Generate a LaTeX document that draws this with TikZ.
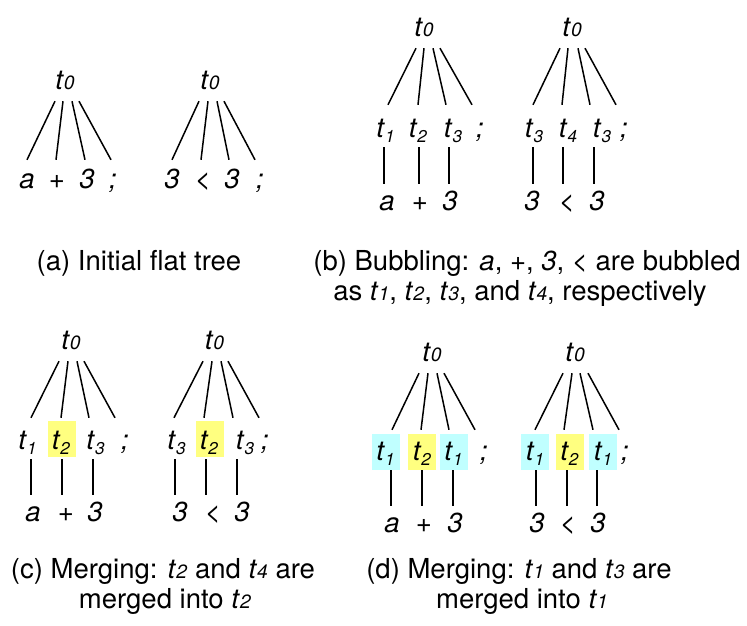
\documentclass[tikz,border=0pt]{standalone}
\usepackage{fontspec}
\setmainfont{TeX Gyre Heros}
\usetikzlibrary{calc}
\definecolor{hlY}{RGB}{255,255,128}
\definecolor{hlC}{RGB}{192,255,255}
\newcommand\tz{\textit{t}\scalebox{0.7}{\textit{0}}}
\newcommand\tsub[1]{\textit{t}\raisebox{-0.2em}{\scalebox{0.62}{\textit{#1}}}}
\newcommand\tcap[1]{\textit{t}\scalebox{0.7}{\textit{#1}}}
\newcommand\rootedges[3]{%
  \foreach \dx/\ch/\cdx in {#2}
    \draw[edge] ([xshift=\dx pt,yshift=-12pt]#1.south) -- ([xshift=\cdx pt,yshift=#3]\ch.north);}
\newcommand\vedges[1]{%
  \foreach \m/\vdx/\l in {#1}{
    \coordinate (vT) at ([xshift=\vdx pt,yshift=-10pt]\m.south);
    \coordinate (vB) at ([yshift=9pt]\l.north);
    \draw[edge] (vT) -- (vT |- vB);}}
\tikzset{
  tl/.style={inner sep=0pt, anchor=base, text height=17pt, text depth=0pt,
             font=\fontsize{27.5}{32}\selectfont},
  hlbox/.style={inner sep=0pt, minimum width=28pt, minimum height=36pt, anchor=south},
  capt/.style={anchor=base, inner sep=0pt, font=\fontsize{27.5}{32}\selectfont},
  edge/.style={line width=1.5pt},
}
\begin{document}
\begin{tikzpicture}[x=1pt,y=-1pt]
\useasboundingbox (0,0) rectangle (747,625);

% ---------- (a) left
\node[tl] (A1r) at (65,89) {\tz};
\node[tl] (A1a) at (27,188) {\textit{a}};
\node[tl] (A1b) at (57,188) {+};
\node[tl] (A1c) at (87,188) {\textit{3}};
\node[tl] (A1d) at (113,188) {\textit{;}};
\rootedges{A1r}{-10/A1a/0,-2/A1b/-1,7/A1c/-2,14/A1d/-2}{11pt}
% ---------- (a) right
\node[tl] (A2r) at (210,89) {\tz};
\node[tl] (A2a) at (172,188) {\textit{3}};
\node[tl] (A2b) at (203,188) {<};
\node[tl] (A2c) at (232,188) {\textit{3}};
\node[tl] (A2d) at (260,188) {\textit{;}};
\rootedges{A2r}{-11/A2a/0,-2/A2b/-2,7/A2c/-3,14/A2d/-5}{11pt}

% ---------- (b) left
\node[tl] (B1r) at (424,36) {\tz};
\node[tl] (B1m1) at (385.5,137) {\tsub{1}};
\node[tl] (B1m2) at (418,137) {\tsub{2}};
\node[tl] (B1m3) at (453,137) {\tsub{3}};
\node[tl] (B1m4) at (480,137) {\textit{;}};
\node[tl] (B1l1) at (387,210) {\textit{a}};
\node[tl] (B1l2) at (420,210) {+};
\node[tl] (B1l3) at (450,210) {\textit{3}};
\rootedges{B1r}{-8/B1m1/2.5,0/B1m2/0,9/B1m3/-7,16/B1m4/-8}{15pt}
\vedges{B1m1/-1.5/B1l1,B1m2/1/B1l2,B1m3/-4/B1l3}
% ---------- (b) right
\node[tl] (B2r) at (572,36) {\tz};
\node[tl] (B2m1) at (534,137) {\tsub{3}};
\node[tl] (B2m2) at (568,137) {\tsub{4}};
\node[tl] (B2m3) at (602,137) {\tsub{3}};
\node[tl] (B2m4) at (624,137) {\textit{;}};
\node[tl] (B2l1) at (532,210) {\textit{3}};
\node[tl] (B2l2) at (567,210) {<};
\node[tl] (B2l3) at (597,210) {\textit{3}};
\rootedges{B2r}{-12/B2m1/-1,-4/B2m2/-6,6/B2m3/-12,13/B2m4/-8}{15pt}
\vedges{B2m1/-1/B2l1,B2m2/-5/B2l2,B2m3/-8/B2l3}

% ---------- (c) left
\node[hlbox,fill=hlY] (C1h) at (62,457) {};
\node[tl] (C1r) at (71,349) {\tz};
\node[tl] (C1m1) at (27.5,449) {\tsub{1}};
\node[tl] (C1m2) at (61,449) {\tsub{2}};
\node[tl] (C1m3) at (95.5,449) {\tsub{3}};
\node[tl] (C1m4) at (125,449) {\textit{;}};
\node[tl] (C1l1) at (33,521) {\textit{a}};
\node[tl] (C1l2) at (66,521) {+};
\node[tl] (C1l3) at (95,521) {\textit{3}};
\rootedges{C1r}{-12/C1m1/3.5,-3/C1m2/0,6/C1m3/-6.5,13/C1m4/-10}{14pt}
\vedges{C1m1/3.5/C1l1,C1m2/1/C1l2,C1m3/-2.5/C1l3}
% ---------- (c) right
\node[hlbox,fill=hlY] (C2h) at (209.5,457) {};
\node[tl] (C2r) at (214.5,349) {\tz};
\node[tl] (C2m1) at (176.5,449) {\tsub{3}};
\node[tl] (C2m2) at (209,449) {\tsub{2}};
\node[tl] (C2m3) at (245,449) {\tsub{3}};
\node[tl] (C2m4) at (265,449) {\textit{;}};
\node[tl] (C2l1) at (180,521) {\textit{3}};
\node[tl] (C2l2) at (213,521) {<};
\node[tl] (C2l3) at (242,521) {\textit{3}};
\rootedges{C2r}{-11.5/C2m1/-2.5,-2.5/C2m2/-5,6.5/C2m3/-12,13.5/C2m4/-6}{14pt}
\vedges{C2m1/-1.5/C2l1,C2m2/-3/C2l2,C2m3/-8/C2l3}

% ---------- (d) left
\node[hlbox,fill=hlC] (D1h1) at (385.5,470) {};
\node[hlbox,fill=hlY] (D1h2) at (422,470) {};
\node[hlbox,fill=hlC] (D1h3) at (453.5,470) {};
\node[tl] (D1r) at (432,361) {\tz};
\node[tl] (D1m1) at (385.5,460) {\tsub{1}};
\node[tl] (D1m2) at (422,460) {\tsub{2}};
\node[tl] (D1m3) at (453.5,460) {\tsub{1}};
\node[tl] (D1m4) at (484,460) {\textit{;}};
\node[tl] (D1l1) at (392,532) {\textit{a}};
\node[tl] (D1l2) at (424,532) {+};
\node[tl] (D1l3) at (455,532) {\textit{3}};
\rootedges{D1r}{-13/D1m1/6.5,-4/D1m2/-1,5/D1m3/-4.5,12/D1m4/-9}{13pt}
\vedges{D1m1/5.5/D1l1,D1m2/0/D1l2,D1m3/-0.5/D1l3}
% ---------- (d) right
\node[hlbox,fill=hlC] (D2h1) at (535,470) {};
\node[hlbox,fill=hlY] (D2h2) at (569.5,470) {};
\node[hlbox,fill=hlC] (D2h3) at (603,470) {};
\node[tl] (D2r) at (575,361) {\tz};
\node[tl] (D2m1) at (535,460) {\tsub{1}};
\node[tl] (D2m2) at (569.5,460) {\tsub{2}};
\node[tl] (D2m3) at (603,460) {\tsub{1}};
\node[tl] (D2m4) at (625,460) {\textit{;}};
\node[tl] (D2l1) at (537,532) {\textit{3}};
\node[tl] (D2l2) at (568,532) {<};
\node[tl] (D2l3) at (598,532) {\textit{3}};
\rootedges{D2r}{-12/D2m1/0,-3/D2m2/-5.5,5/D2m3/-10,13/D2m4/-6}{13pt}
\vedges{D2m1/1/D2l1,D2m2/-2.5/D2l2,D2m3/-6/D2l3}

% ---------- captions
\node[capt] (capA) at (139,270) {(a) Initial flat tree};
\node[capt] (capB1) at (527,270) {(b) Bubbling: \textit{a}, +, \textit{3}, < are bubbled};
\node[capt] (capB2) at (520,300) {as \tcap{1}, \tcap{2}, \tcap{3}, and \tcap{4}, respectively};
\node[capt] (capC1) at (163,578) {(c) Merging: \tcap{2} and \tcap{4} are};
\node[capt] (capC2) at (165,608) {merged into \tcap{2}};
\node[capt] (capD1) at (519,578) {(d) Merging: \tcap{1} and \tcap{3} are};
\node[capt] (capD2) at (522,608) {merged into \tcap{1}};
\end{tikzpicture}
\end{document}
